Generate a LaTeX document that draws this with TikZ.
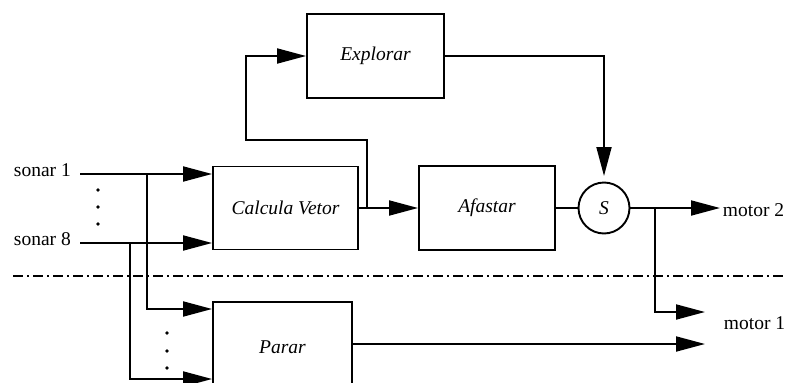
\documentclass[tikz,border=0pt]{standalone}
\usepackage{fontspec}
\setmainfont{Liberation Serif}
\usetikzlibrary{arrows.meta}

\begin{document}
\begin{tikzpicture}[x=1pt, y=-1pt, line width=1.9pt,
  blk/.style={draw, line width=1.9pt, inner sep=0pt,
    font=\itshape\fontsize{19.5}{22}\selectfont},
  junc/.style={draw, circle, line width=1.9pt, inner sep=0pt, minimum size=51pt,
    font=\itshape\fontsize{19.5}{22}\selectfont},
  lbl/.style={anchor=base west, inner sep=0pt, font=\fontsize{19.5}{22}\selectfont},
  arr/.style={-{Triangle[length=29pt, width=15pt]}},
  dashdot/.style={line width=1.9pt, dash pattern=on 10pt off 4pt on 2pt off 4pt}]
\useasboundingbox (0,0) rectangle (785,383);

% behaviour blocks
\node[blk, minimum width=137pt, minimum height=84pt] (E) at (375.5,56) {Explorar};
\node[blk, minimum width=145pt, minimum height=83pt] (CV) at (285.5,208) {Calcula Vetor};
\node[blk, minimum width=136pt, minimum height=84pt] (A) at (487,208) {Afastar};
\node[blk, minimum width=139pt, minimum height=90pt] (P) at (282.5,347) {Parar};
\node[junc] (S) at (604,208) {S};

% sensor and motor labels
\node[lbl] (ls1) at (13,176) {sonar 1};
\node[lbl] (ls8) at (13,245) {sonar 8};
\node[lbl] (lm2) at (722,216) {motor 2};
\node[lbl] (lm1) at (723,329) {motor 1};

% helper points
\coordinate (s1) at (80,174);
\coordinate (s8) at (80,243);
\coordinate (j1) at (147,174);
\coordinate (j8) at (130,243);
\coordinate (j2) at (367,208);
\coordinate (fb1) at (367,140);
\coordinate (fb2) at (246,140);
\coordinate (sin) at (604,176);
\coordinate (j3) at (655,208);
\coordinate (m2) at (720,208);
\coordinate (m1) at (705,312);
\coordinate (po) at (705,344);
\coordinate (dl) at (13,276);
\coordinate (dr) at (785,276);

% sonar inputs
\draw[arr] (s1) -- ([yshift=34pt]CV.west);
\draw[arr] (s8) -- ([yshift=-35pt]CV.west);
\draw[arr] (j1) |- ([yshift=38pt]P.west);
\draw[arr] (j8) |- ([yshift=-32pt]P.west);

% upper layer
\draw[arr] (CV.east) -- (A.west);
\draw[arr] (j2) -- (fb1) -- (fb2) |- (E.west);
\draw[arr] (E.east) -| (sin);
\draw (A.east) -- (S.west);
\draw[arr] (S.east) -- (m2);
\draw[arr] (j3) |- (m1);

% lower layer
\draw[arr] (P.east |- po) -- (po);

% layer separator
\draw[dashdot] (dl) -- (dr);

% ellipsis dots
\foreach \p in {(98,190),(98,207),(98,224),(167,333),(167,351),(167,368)}
  \fill \p circle (1.8pt);
\end{tikzpicture}
\end{document}
